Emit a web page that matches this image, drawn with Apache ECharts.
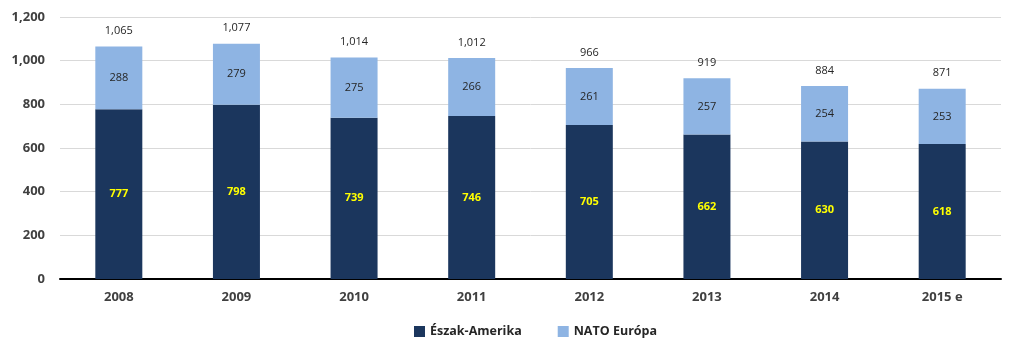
<!DOCTYPE html>
<html><head><meta charset="utf-8">
<script src="https://cdn.jsdelivr.net/npm/echarts@6/dist/echarts.min.js"></script>
<style>html,body{margin:0;padding:0;background:#fff}#c{width:1024px;height:351px}</style>
</head><body><div id="c"></div>
<script>
const categories = ['2008','2009','2010','2011','2012','2013','2014','2015 e'];
const northAmerica = [777,798,739,746,705,662,630,618];
const natoEurope = [288,279,275,266,261,257,254,253];
const totals = [1065,1077,1014,1012,966,919,884,871];
const yTicks = [0,200,400,600,800,1000,1200];

const fmt = v => v.toLocaleString('en-US');
const font = '"Open Sans", "Liberation Sans", sans-serif';
const chart = echarts.init(document.getElementById('c'));
chart.setOption({
  animation:false,
  textStyle:{fontFamily:font},
  grid:{left:60,right:23,top:17,bottom:72,containLabel:false},
  legend:{data:['Észak-Amerika','NATO Európa'],bottom:8,left:409,itemWidth:11,itemHeight:11,itemGap:36,icon:'rect',
    textStyle:{fontFamily:font,fontWeight:'bold',fontSize:12.5,color:'#262626'}},
  xAxis:{type:'category',data:categories,
    axisLine:{lineStyle:{color:'#000',width:2}},axisTick:{show:false},
    axisLabel:{fontFamily:font,fontWeight:'bold',fontSize:13,color:'#404040',margin:12}},
  yAxis:{type:'value',min:yTicks[0],max:yTicks[yTicks.length-1],interval:200,
    axisLine:{show:false},axisTick:{show:false},
    splitLine:{lineStyle:{color:'#d9d9d9'}},
    axisLabel:{fontFamily:font,fontWeight:'bold',fontSize:13,color:'#404040',margin:15,formatter:v=>fmt(v)}},
  series:[
    {name:'Észak-Amerika',type:'bar',stack:'t',data:northAmerica,barWidth:47,
     itemStyle:{color:'#1B365D'},
     label:{show:true,position:'inside',color:'#FFFF00',fontWeight:'bold',fontSize:11,fontFamily:font}},
    {name:'NATO Európa',type:'bar',stack:'t',data:natoEurope,barWidth:47,
     itemStyle:{color:'#8EB4E3'},
     label:{show:true,position:'inside',color:'#262626',fontSize:11,fontFamily:font}},
    {name:'total',type:'bar',stack:'t',data:totals.map(()=>0),barWidth:47,
     itemStyle:{color:'transparent'},legendHoverLink:false,
     label:{show:true,position:'top',distance:10,color:'#262626',fontSize:11,fontFamily:font,
       formatter:p=>fmt(totals[p.dataIndex])}}
  ]
});
</script></body></html>
